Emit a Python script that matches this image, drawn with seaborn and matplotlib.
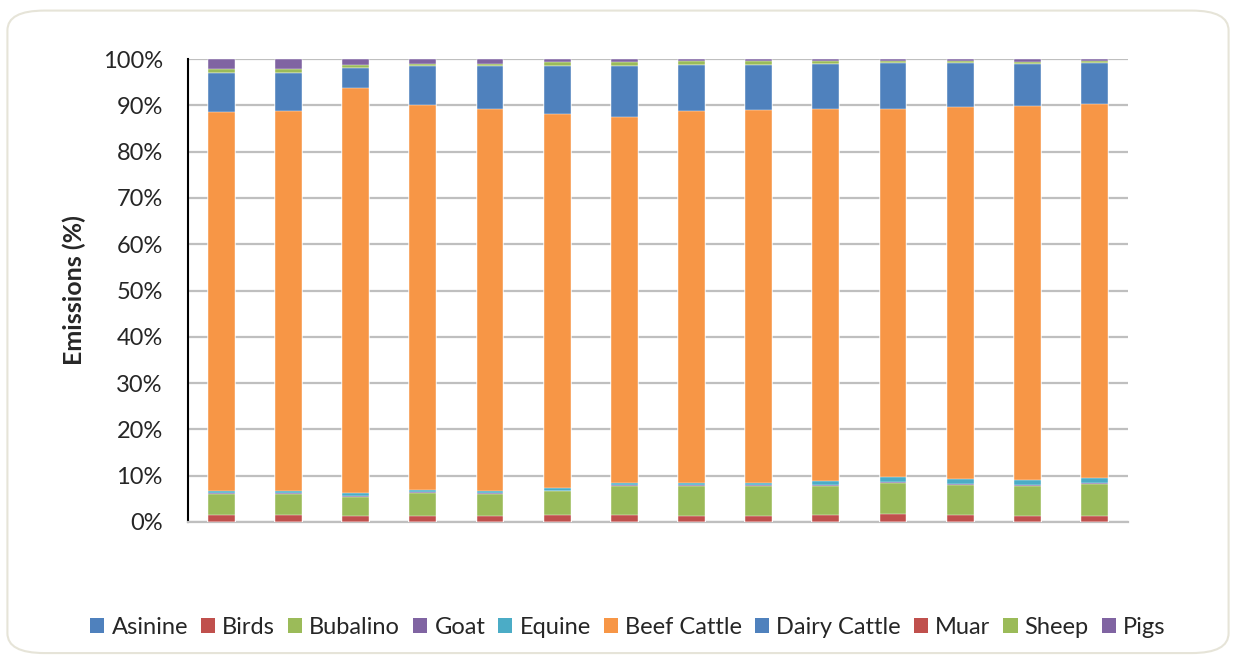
import numpy as np
import pandas as pd
import seaborn as sns
from matplotlib import pyplot as plt
from matplotlib.patches import FancyBboxPatch, Patch
import matplotlib.ticker as mtick

# values per bar (percent share, 14 bars)
bars = [f'B{i}' for i in range(1, 15)]
asinine = [0.05] * 14
birds = [1.45, 1.45, 1.25, 1.35, 1.35, 1.45, 1.45, 1.35, 1.25, 1.45, 1.65, 1.55, 1.35, 1.35]
bubalino = [4.6, 4.6, 4.1, 4.8, 4.7, 5.2, 6.2, 6.3, 6.4, 6.2, 6.8, 6.4, 6.3, 6.8]
goat = [0.2, 0.2, 0.2, 0.2, 0.2, 0.1, 0.2, 0.2, 0.2, 0.2, 0.2, 0.1, 0.2, 0.2]
equine = [0.4, 0.5, 0.6, 0.45, 0.5, 0.5, 0.6, 0.6, 0.6, 1.0, 1.0, 1.1, 1.1, 1.0]
beef_cattle = [81.9, 82.0, 87.5, 83.35, 82.5, 80.8, 79.0, 80.3, 80.4, 79.9, 79.5, 80.4, 80.9, 80.8]
dairy_cattle = [8.4, 8.2, 4.4, 8.3, 9.2, 10.5, 11.1, 9.9, 9.8, 9.8, 9.8, 9.4, 9.1, 8.8]
muar = [0.05] * 14
sheep = [0.8, 0.8, 0.6, 0.5, 0.5, 0.7, 0.8, 0.8, 0.85, 0.6, 0.55, 0.55, 0.35, 0.5]
pigs = [2.2, 2.2, 1.3, 1.0, 1.0, 0.7, 0.6, 0.5, 0.35, 0.4, 0.35, 0.35, 0.65, 0.4]

series = {
    'Asinine': asinine, 'Birds': birds, 'Bubalino': bubalino, 'Goat': goat,
    'Equine': equine, 'Beef Cattle': beef_cattle, 'Dairy Cattle': dairy_cattle,
    'Muar': muar, 'Sheep': sheep, 'Pigs': pigs,
}
BLUE, RED, GREEN, PURPLE, AQUA, ORANGE = '#4F81BD', '#C0504D', '#9BBB59', '#8064A2', '#4BACC6', '#F79646'
colors = [BLUE, RED, GREEN, PURPLE, AQUA, ORANGE, BLUE, RED, GREEN, PURPLE]

df = pd.DataFrame(series, index=bars)
df = df.div(df.sum(axis=1), axis=0) * 100
cum = df.cumsum(axis=1)

sns.set_style('white')
plt.rcParams['font.family'] = ['Lato', 'DejaVu Sans']

fig = plt.figure(figsize=(12.36, 6.61), dpi=100)
fig.patches.append(FancyBboxPatch((0.006, 0.012), 0.988, 0.972,
                                  boxstyle='round,pad=0,rounding_size=0.03',
                                  transform=fig.transFigure, facecolor='white',
                                  edgecolor='#E6E4D8', linewidth=1.5, zorder=-10))
ax = fig.add_axes([0.152, 0.2103, 0.7606, 0.7004])
ax.set_facecolor('none')

# draw cumulative totals from the top down so each layer sits on the one below
names = list(series.keys())
for i in range(len(names) - 1, -1, -1):
    plot_df = pd.DataFrame({'bar': bars, 'value': cum.iloc[:, i].values})
    sns.barplot(data=plot_df, x='bar', y='value', color=colors[i], width=0.4,
                saturation=1, ax=ax, zorder=3 + (len(names) - i),
                edgecolor='white', linewidth=0.3)

ax.set_ylim(0, 100)
ax.set_xlim(-0.5, 13.5)
ax.yaxis.set_major_locator(mtick.MultipleLocator(10))
ax.yaxis.set_major_formatter(mtick.PercentFormatter(decimals=0))
ax.grid(axis='y', color='#BFBFBF', linewidth=1.6, zorder=0)
ax.set_axisbelow(True)
ax.set_xticks([])
ax.set_xlabel('')
ax.set_ylabel('Emissions (%)', fontsize=18, fontweight='bold', labelpad=12)
ax.tick_params(axis='y', labelsize=17, length=0, pad=18)
for s in ['top', 'right']:
    ax.spines[s].set_visible(False)
ax.spines['left'].set_color('black')
ax.spines['left'].set_linewidth(1.5)
ax.spines['bottom'].set_color('#BFBFBF')
ax.spines['bottom'].set_linewidth(1.6)

handles = [Patch(facecolor=c, edgecolor='none') for c in colors]
fig.legend(handles, names, loc='center', bbox_to_anchor=(0.508, 0.051), ncol=10,
           frameon=False, fontsize=17, handlelength=0.6, handleheight=0.6,
           handletextpad=0.3, columnspacing=0.55)

fig.savefig('out.png', dpi=100)
